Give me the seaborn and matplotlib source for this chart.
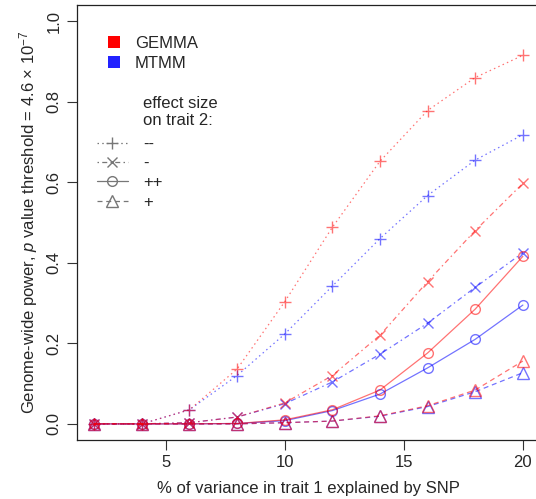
import matplotlib
matplotlib.use("Agg")
import matplotlib.pyplot as plt
from matplotlib.lines import Line2D
from matplotlib.patches import Patch
import numpy as np
import pandas as pd
import seaborn as sns

# % of variance in trait 1 explained by the SNP
variance_pct = [2, 4, 6, 8, 10, 12, 14, 16, 18, 20]

# Genome-wide power per method and effect size on trait 2
gemma_mm = [0.0, 0.0, 0.035, 0.136, 0.303, 0.488, 0.652, 0.778, 0.860, 0.915]
gemma_m = [0.0, 0.0, 0.003, 0.017, 0.052, 0.120, 0.220, 0.353, 0.480, 0.597]
gemma_pp = [0.0, 0.0, 0.0, 0.001, 0.010, 0.035, 0.084, 0.176, 0.285, 0.416]
gemma_p = [0.0, 0.0, 0.0, 0.0, 0.003, 0.007, 0.020, 0.045, 0.084, 0.156]

mtmm_mm = [0.0, 0.0, 0.035, 0.120, 0.223, 0.342, 0.460, 0.567, 0.655, 0.718]
mtmm_m = [0.0, 0.0, 0.003, 0.017, 0.050, 0.104, 0.173, 0.250, 0.339, 0.425]
mtmm_pp = [0.0, 0.0, 0.0, 0.001, 0.008, 0.033, 0.074, 0.139, 0.210, 0.295]
mtmm_p = [0.0, 0.0, 0.0, 0.0, 0.003, 0.007, 0.019, 0.043, 0.080, 0.127]

methods = ["MTMM", "GEMMA"]
effects = ["--", "-", "++", "+"]
series = {
    ("GEMMA", "--"): gemma_mm, ("GEMMA", "-"): gemma_m,
    ("GEMMA", "++"): gemma_pp, ("GEMMA", "+"): gemma_p,
    ("MTMM", "--"): mtmm_mm, ("MTMM", "-"): mtmm_m,
    ("MTMM", "++"): mtmm_pp, ("MTMM", "+"): mtmm_p,
}

rows = []
for (m, e), vals in series.items():
    for x, y in zip(variance_pct, vals):
        rows.append({"method": m, "effect": e, "variance": x, "power": y})
df = pd.DataFrame(rows)

method_colors = {"GEMMA": "#ff0000", "MTMM": "#0000ff"}
effect_styles = {
    "--": dict(linestyle=(0, (1.2, 2.6)), marker="+", ms=9, mew=1.0),
    "-": dict(linestyle=(0, (1.2, 2.6, 4.0, 2.6)), marker="x", ms=7, mew=1.0),
    "++": dict(linestyle="-", marker="o", ms=7, mew=1.0),
    "+": dict(linestyle=(0, (4.0, 3.0)), marker="^", ms=8, mew=1.0),
}

sns.set_theme(style="white")
plt.rcParams["font.family"] = ["Liberation Sans", "DejaVu Sans"]
plt.rcParams["mathtext.fontset"] = "custom"
plt.rcParams["mathtext.rm"] = "Liberation Sans"
plt.rcParams["mathtext.it"] = "Liberation Sans:italic"

FS = 12
W, H = 536, 499
fig = plt.figure(figsize=(W / 100, H / 100), dpi=100)
fig.patch.set_facecolor("white")
x0, x1, y0, y1 = 77, 540, 5, 440
ax = fig.add_axes([x0 / W, 1 - y1 / H, (x1 - x0) / W, (y1 - y0) / H])
ax.set_facecolor("white")


def ax_xy(px, py):
    """Pixel position in the figure -> axes fraction."""
    return ((px - x0) / (x1 - x0), 1 - (py - y0) / (y1 - y0))


alpha = 0.55
for m in methods:
    for e in effects:
        sub = df[(df.method == m) & (df.effect == e)]
        st = effect_styles[e]
        sns.lineplot(data=sub, x="variance", y="power", ax=ax,
                     color=method_colors[m], alpha=alpha, lw=0.9,
                     linestyle=st["linestyle"], marker=st["marker"],
                     markersize=st["ms"], markeredgewidth=st["mew"],
                     markerfacecolor="none",
                     markeredgecolor=method_colors[m], legend=False)

ax.set_xlim(1.28, 20.72)
ax.set_ylim(-0.04, 1.04)
ax.set_xticks([5, 10, 15, 20])
ax.set_xticklabels(["5", "10", "15", "20"])
ax.set_yticks([0.0, 0.2, 0.4, 0.6, 0.8, 1.0])
ax.set_yticklabels(["0.0", "0.2", "0.4", "0.6", "0.8", "1.0"],
                   rotation=90, va="center")
ax.tick_params(axis="both", direction="out", length=7, width=0.8,
               color="#333333", labelsize=FS, pad=4, left=True, bottom=True)
for s in ax.spines.values():
    s.set_color("#222222")
    s.set_linewidth(0.9)

ax.set_xlabel("% of variance in trait 1 explained by SNP", fontsize=FS,
              labelpad=8)
ax.set_ylabel(r"Genome-wide power, $\it{p}$ value threshold = 4.6 $\times$ 10$^{-7}$",
              fontsize=FS, labelpad=5)

# method legend
method_handles = [Patch(facecolor="#ff0000", edgecolor="none", label="GEMMA"),
                  Patch(facecolor="#2222ff", edgecolor="none", label="MTMM")]
leg1 = ax.legend(handles=method_handles, loc="upper left",
                 bbox_to_anchor=ax_xy(108, 36),
                 frameon=False, fontsize=FS, handlelength=0.7, handleheight=0.7,
                 handletextpad=0.9, labelspacing=0.3, borderaxespad=0,
                 borderpad=0)
ax.add_artist(leg1)

# effect-size legend
ax.text(*ax_xy(143, 112), "effect size\non trait 2:", transform=ax.transAxes,
        fontsize=FS, ha="left", va="center", linespacing=1.15)
gray = "#777777"
eff_handles = []
for e in effects:
    st = effect_styles[e]
    eff_handles.append(Line2D([], [], color=gray, lw=0.9, linestyle=st["linestyle"],
                              marker=st["marker"], markersize=st["ms"],
                              markeredgewidth=st["mew"], markerfacecolor="none",
                              markeredgecolor=gray, label=e))
leg2 = ax.legend(handles=eff_handles, loc="upper left",
                 bbox_to_anchor=ax_xy(97, 137),
                 frameon=False, fontsize=FS,
                 handlelength=1.85, handletextpad=0.9, labelspacing=0.25,
                 borderaxespad=0, borderpad=0)

fig.savefig("out.png", dpi=100, facecolor="white")
